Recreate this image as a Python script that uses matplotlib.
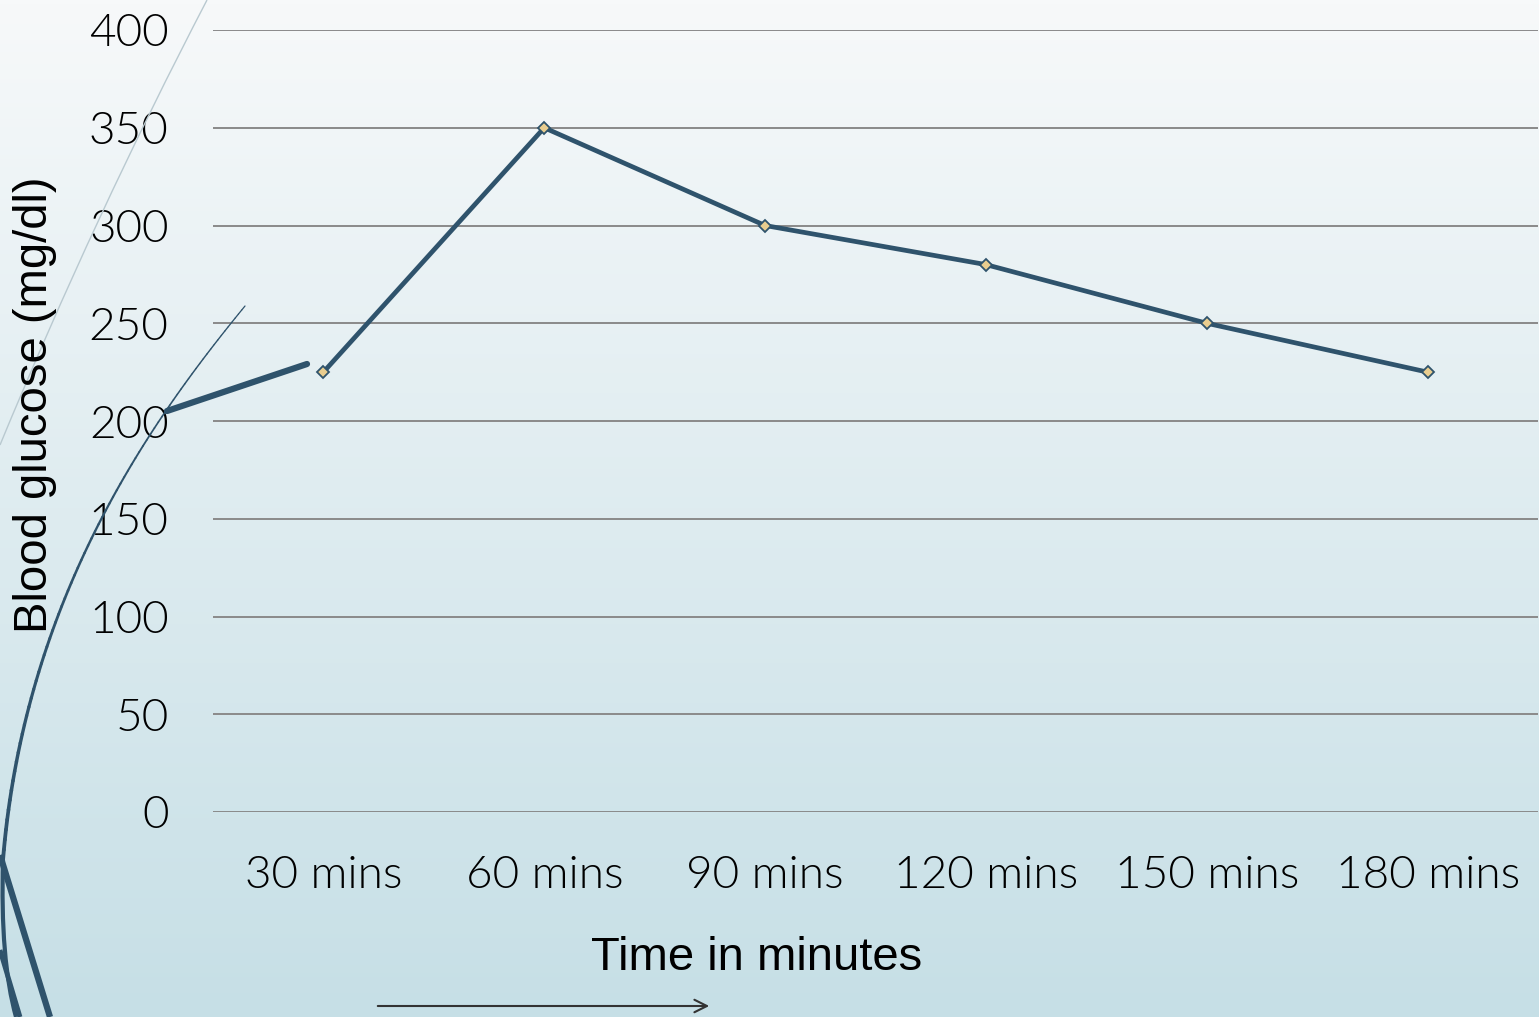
import numpy as np
import matplotlib.pyplot as plt
from matplotlib.colors import LinearSegmentedColormap
from matplotlib.collections import LineCollection
from matplotlib.path import Path
from matplotlib.patches import PathPatch

times = ['30 mins', '60 mins', '90 mins', '120 mins', '150 mins', '180 mins']
glucose = [225, 350, 300, 280, 250, 225]
yticks = [0, 50, 100, 150, 200, 250, 300, 350, 400]

W, H = 1539, 1017
fig = plt.figure(figsize=(W / 100, H / 100), dpi=100)

# slide background: soft vertical gradient
bg = fig.add_axes([0, 0, 1, 1], zorder=0)
grad = LinearSegmentedColormap.from_list('bg', ['#f7f9fa', '#c6dfe6'])
bg.imshow(np.linspace(0, 1, 256).reshape(-1, 1), aspect='auto', cmap=grad,
          extent=[0, 1, 0, 1], origin='upper')
bg.axis('off')

# chart area
ax = fig.add_axes([213 / W, 1 - 812 / H, (1538 - 213) / W, (812 - 30) / H], zorder=2)
ax.patch.set_alpha(0)
x = np.arange(len(times))
ax.plot(x, glucose, color='#2f536c', lw=3.4, marker='D', markersize=6.5,
        markerfacecolor='#e9cd8f', markeredgecolor='#2f536c', markeredgewidth=1.3,
        zorder=3, clip_on=False)
ax.set_xlim(-0.5, len(times) - 0.5)
ax.set_ylim(0, 400)
ax.set_yticks(yticks)
ax.set_xticks(x)
ax.set_xticklabels(times)
ax.grid(axis='y', color='#8a8a8a', lw=1.4)
ax.set_axisbelow(True)
for s in ax.spines.values():
    s.set_visible(False)
ax.tick_params(length=0, labelsize=33, labelcolor='#000000')
ax.tick_params(axis='y', pad=32)
ax.tick_params(axis='x', pad=31)
for lab in ax.get_xticklabels() + ax.get_yticklabels():
    lab.set_family(['Lato', 'DejaVu Sans'])
    lab.set_fontweight(300)

fig.text(35 / W, 1 - 405 / H, 'Blood glucose (mg/dl)', rotation=90, ha='center',
         va='center', fontsize=34, family='Liberation Sans', color='#000000')
fig.text(757 / W, 1 - 958 / H, 'Time in minutes', ha='center', va='center',
         fontsize=34, family='Liberation Sans', color='#000000')

# decorative theme strokes, in pixel space
deco = fig.add_axes([0, 0, 1, 1], zorder=3)
deco.set_xlim(0, W)
deco.set_ylim(H, 0)
deco.axis('off')
deco.patch.set_alpha(0)
navy = '#2f536c'

def curve(pts, lw, color):
    codes = [Path.MOVETO] + [Path.CURVE3] * (len(pts) - 1)
    deco.add_patch(PathPatch(Path(pts, codes), fill=False, lw=lw, ec=color,
                             capstyle='butt'))

curve([(207, 0), (95, 215), (0, 445)], 1.0, '#b9c9d0')

# swoosh that thickens as it sweeps down the left edge
ctrl = np.array([(245, 306), (160, 410), (25, 590), (3, 860)], float)
t = np.linspace(0, 1, 80)[:, None]
pts = ((1 - t) ** 3 * ctrl[0] + 3 * (1 - t) ** 2 * t * ctrl[1]
       + 3 * (1 - t) * t ** 2 * ctrl[2] + t ** 3 * ctrl[3])
segs = np.stack([pts[:-1], pts[1:]], axis=1)
widths = np.interp(t[:-1, 0], [0, 0.3, 1], [0.9, 1.2, 2.8])
deco.add_collection(LineCollection(segs, linewidths=widths, colors=navy,
                                   capstyle='round'))
curve([(3, 860), (0, 960), (16, 1017)], 3.0, navy)
deco.plot([0, 50], [855, 1017], color=navy, lw=4.5, solid_capstyle='butt')
deco.plot([0, 20], [950, 1017], color=navy, lw=3.5, solid_capstyle='butt')
deco.plot([167, 307], [411, 364], color=navy, lw=4.5, solid_capstyle='round')
deco.annotate('', xy=(712, 1006), xytext=(375, 1006),
              arrowprops=dict(arrowstyle='->,head_length=0.9,head_width=0.45',
                              color='#333333', lw=1.5))

fig.savefig('out.png', dpi=100)
